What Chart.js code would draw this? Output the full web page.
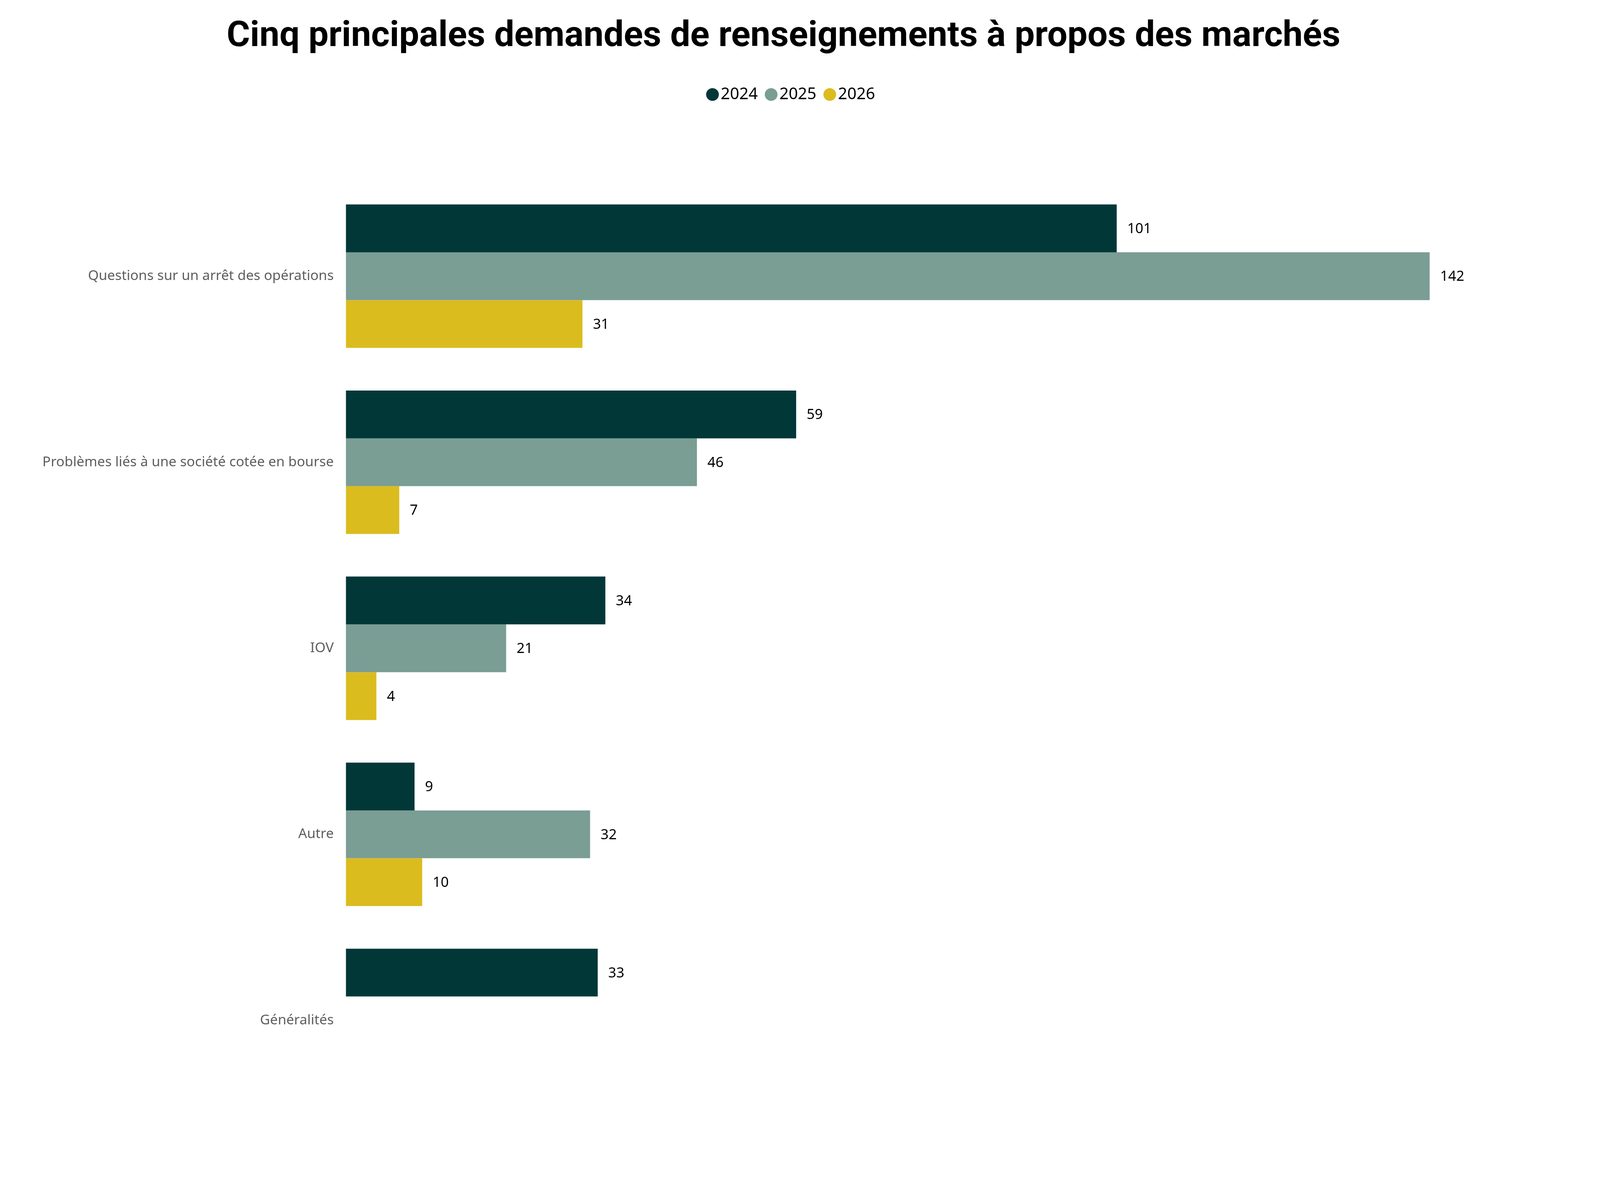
<!DOCTYPE html>
<html lang="fr">
<head>
  <meta charset="UTF-8" />
  <title>Cinq principales demandes de renseignements à propos des marchés</title>
  <style>
    html, body { margin: 0; padding: 0; background: #fff; overflow: hidden; }
    #wrap { width: 100vw; height: 100vh; position: relative; }
  </style>
</head>
<body>
  <div id="wrap"><canvas id="chart"></canvas></div>

  <script src="https://cdn.jsdelivr.net/npm/chart.js"></script>
  <script>
    // données
    const categories = [
      'Questions sur un arrêt des opérations',
      'Problèmes liés à une société cotée en bourse',
      'IOV',
      'Autre',
      'Généralités'
    ];
    const years = ['2024', '2025', '2026'];
    const values2024 = [101, 59, 34, 9, 33];
    const values2025 = [142, 46, 21, 32, null];
    const values2026 = [31, 7, 4, 10, null];

    const colors = ['#023738', '#7A9D94', '#DBBC1F'];

    // mesures prises sur une image de 5334 x 3042
    const kx = window.innerWidth / 5334;
    const ky = window.innerHeight / 3042;
    const X = v => v * kx;
    const Y = v => v * ky;

    const titleSize = X(119);
    const titleLine = titleSize * 1.2;
    const titleTop = Y(95) - titleLine / 2;

    const legendFont = X(54);
    const legendPad = X(44);
    const legendTop = Y(242) - legendPad - legendFont / 2;
    const titleBottom = legendTop - titleTop - titleLine;
    const legendExtra = Y(469) - legendTop - (legendFont + legendPad + 10);

    // étiquettes de valeur au bout des barres
    const barLabels = {
      id: 'barLabels',
      afterDatasetsDraw(chart) {
        const ctx = chart.ctx;
        ctx.save();
        ctx.font = X(47) + 'px "Noto Sans"';
        ctx.fillStyle = '#000';
        ctx.textAlign = 'left';
        ctx.textBaseline = 'middle';
        chart.data.datasets.forEach((ds, i) => {
          chart.getDatasetMeta(i).data.forEach((bar, j) => {
            const v = ds.data[j];
            if (v === null || v === undefined) return;
            ctx.fillText(String(v), bar.x + X(35), bar.y + Y(2));
          });
        });
        ctx.restore();
      }
    };

    // espace sous la légende + recentrage de la ligne
    const legendGap = {
      id: 'legendGap',
      beforeInit(chart) {
        const fit = chart.legend.fit;
        chart.legend.fit = function () {
          fit.bind(chart.legend)();
          this.height += legendExtra;
          if (this.lineWidths && this.lineWidths.length) this.lineWidths[0] -= X(68);
        };
      }
    };

    new Chart(document.getElementById('chart'), {
      type: 'bar',
      data: {
        labels: categories,
        datasets: [
          { label: years[0], data: values2024, backgroundColor: colors[0] },
          { label: years[1], data: values2025, backgroundColor: colors[1] },
          { label: years[2], data: values2026, backgroundColor: colors[2] }
        ]
      },
      options: {
        indexAxis: 'y',
        responsive: true,
        maintainAspectRatio: false,
        animation: false,
        categoryPercentage: 0.771,
        barPercentage: 1,
        layout: { padding: { left: 0, right: X(110), top: 0, bottom: Y(191) } },
        scales: {
          x: { display: false, min: 0, max: 160 },
          y: {
            grid: { display: false },
            border: { display: false },
            ticks: {
              padding: X(30),
              color: '#605E5C',
              font: { family: '"Noto Sans"', size: X(46) }
            },
            afterFit: s => { s.width = X(1153); }
          }
        },
        plugins: {
          title: {
            display: true,
            text: 'Cinq principales demandes de renseignements à propos des marchés',
            color: '#000',
            font: { family: 'Roboto', weight: 'bold', size: titleSize },
            padding: { top: titleTop, bottom: titleBottom }
          },
          legend: {
            display: true,
            labels: {
              usePointStyle: true,
              pointStyle: 'circle',
              boxWidth: X(1),
              boxHeight: X(30),
              padding: legendPad,
              color: '#000',
              font: { family: '"Noto Sans"', size: legendFont }
            }
          },
          tooltip: { enabled: false }
        }
      },
      plugins: [barLabels, legendGap]
    });
  </script>
</body>
</html>
